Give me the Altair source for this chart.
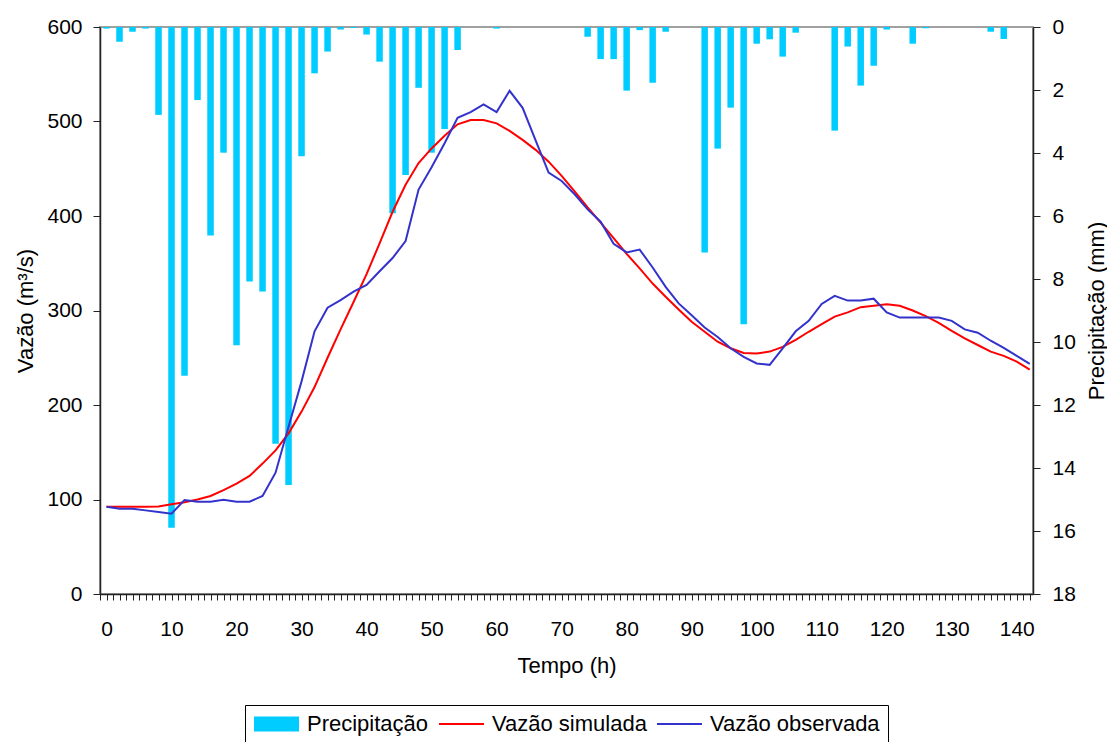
import altair as alt
import pandas as pd

# ---- data (hours every 2 h) ----
hours = list(range(0, 143, 2))

precip = [0.05, 0.47, 0.15, 0.05, 2.79, 15.9, 11.07, 2.32, 6.62, 3.99, 10.1, 8.08,
          8.4, 13.23, 14.54, 4.1, 1.47, 0.78, 0.08, 0.03, 0.24, 1.1, 5.91, 4.7,
          1.93, 3.99, 3.24, 0.73, 0, 0, 0.05, 0, 0, 0, 0, 0,
          0, 0.31, 1.02, 1.02, 2.02, 0.1, 1.77, 0.15, 0, 0, 7.16, 3.86,
          2.56, 9.44, 0.53, 0.39, 0.94, 0.18, 0, 0, 3.29, 0.62, 1.86, 1.23,
          0.08, 0, 0.53, 0.04, 0, 0, 0, 0, 0.15, 0.38, 0, 0]

vazao_simulada = [92.4, 92.4, 92.4, 92.4, 92.6, 95, 97, 100, 103.7, 110, 116.7, 125,
                  138, 152, 170, 193, 219, 250, 280, 309, 338.5, 371, 404.5, 433,
                  456, 471.5, 485, 497, 501.5, 501.5, 498, 490, 480.5, 470, 457.5, 442.5,
                  426, 409, 393, 376.5, 360, 344.5, 328.5, 314.5, 301, 288, 277.5, 267,
                  260, 255, 254.5, 256.5, 261.5, 269, 277.5, 285.5, 293.5, 298, 303.5, 305,
                  306.5, 305, 300, 294, 287, 278.5, 270.5, 263.5, 256.5, 252, 246, 237.5]

vazao_observada = [92.4, 90.3, 90.3, 88.5, 86.8, 85, 99.5, 97.7, 97.7, 99.8, 97.7, 97.7,
                   103.7, 128.4, 177, 225, 278, 303, 311, 320, 327, 341.5, 355.5, 373.5,
                   428, 451.5, 477, 504, 510, 518, 510, 532.5, 514.5, 480, 446, 437,
                   423, 407, 394, 370.5, 361.5, 364.5, 345.5, 325, 307.5, 295, 282, 272,
                   260, 251, 244, 242.5, 260, 278, 289, 307, 315.5, 310.5, 310.5, 312.5,
                   298, 292.5, 292.5, 292.5, 292.5, 289, 280, 276.5, 268, 260.5, 252, 243.5]

series_names = ["Precipitação", "Vazão simulada", "Vazão observada"]
series_colors = ["#00CCFF", "#FF0000", "#3333CC"]

x_tick_values = list(range(-1, 143))
left_tick_values = [0, 100, 200, 300, 400, 500, 600]
right_tick_values = list(range(0, 19, 2))

# ---- tables ----
df_p = pd.DataFrame({"h": hours, "p": precip})
df_l = pd.DataFrame({
    "h": hours + hours,
    "v": vazao_simulada + vazao_observada,
    "serie": [series_names[1]] * len(hours) + [series_names[2]] * len(hours),
})
df_leg = pd.DataFrame({"serie": series_names})

FONT = "Liberation Sans"
W, H = 933, 567

x_scale = alt.Scale(domain=[-1, 142.5], nice=False, zero=False)
x_axis = alt.Axis(
    values=x_tick_values,
    labelExpr="datum.value >= 0 && datum.value % 10 == 0 ? datum.label : ''",
    labelOverlap=False,
    tickSize=6,
    labelPadding=18,
    title="Tempo (h)",
    titleX=W / 2,
    titleY=71,
    titleBaseline="middle",
    titleAlign="center",
)
color_scale = alt.Scale(domain=series_names, range=series_colors)

bars = alt.Chart(df_p).transform_calculate(
    h0="datum.h - 0.5", h1="datum.h + 0.5"
).mark_rect(color="#00CCFF").encode(
    x=alt.X("h0:Q", scale=x_scale, axis=x_axis),
    x2="h1:Q",
    y=alt.Y("p:Q",
            scale=alt.Scale(domain=[0, 18], reverse=True, nice=False, zero=True),
            axis=alt.Axis(orient="right", values=right_tick_values, tickSize=7,
                          labelPadding=12, title="Precipitação (mm)",
                          titleX=63, titleY=H / 2, titleAngle=270,
                          titleAlign="center", titleBaseline="middle")),
    y2=alt.datum(0),
)

lines = alt.Chart(df_l).mark_line(strokeWidth=2).encode(
    x=alt.X("h:Q", scale=x_scale, axis=x_axis),
    y=alt.Y("v:Q",
            scale=alt.Scale(domain=[0, 600], nice=False),
            axis=alt.Axis(orient="left", values=left_tick_values, tickSize=7,
                          labelPadding=11, title="Vazão (m³/s)",
                          titleX=-75, titleY=H / 2, titleAngle=270,
                          titleAlign="center", titleBaseline="middle")),
    color=alt.Color("serie:N", scale=color_scale, legend=None),
    detail="serie:N",
)

# legend symbols: wide swatch for the bars, thin stroke for the lines
rect_path = "M-1,-0.75L3.5,-0.75L3.5,0.75L-1,0.75Z"
line_path = "M-1,-0.1L3.5,-0.1L3.5,0.1L-1,0.1Z"

legend_def = alt.Legend(
    orient="none", legendX=145, legendY=678, direction="horizontal",
    title=None, labelFontSize=22, labelFont=FONT, labelColor="black",
    symbolSize=400, symbolStrokeWidth=0, symbolOpacity=1,
    strokeColor="black", padding=8, columnPadding=9, labelOffset=32,
    labelLimit=400,
)

legend_pts = alt.Chart(df_leg).mark_point(filled=True, opacity=1, clip=True).encode(
    x=alt.value(-500),
    y=alt.value(-500),
    color=alt.Color("serie:N", scale=color_scale, legend=legend_def),
    shape=alt.Shape("serie:N",
                    scale=alt.Scale(domain=series_names,
                                    range=[rect_path, line_path, line_path]),
                    legend=legend_def),
    size=alt.value(400),
)

chart = alt.layer(bars, lines, legend_pts).resolve_scale(
    y="independent", color="independent", shape="independent"
).properties(
    width=W, height=H,
    autosize=alt.AutoSizeParams(type="none"),
    padding={"left": 100, "top": 27, "right": 74, "bottom": 148},
).configure_view(
    stroke="#A0A0A0", strokeWidth=2
).configure_axis(
    labelFont=FONT, labelFontSize=21, labelColor="black",
    titleFont=FONT, titleFontSize=22, titleFontWeight="normal", titleColor="black",
    grid=False, domainColor="#222222", domainWidth=1.5, tickColor="#222222",
    tickWidth=1, zindex=1,
)

chart.save("out.html", embed_options={"renderer": "svg", "actions": False})
